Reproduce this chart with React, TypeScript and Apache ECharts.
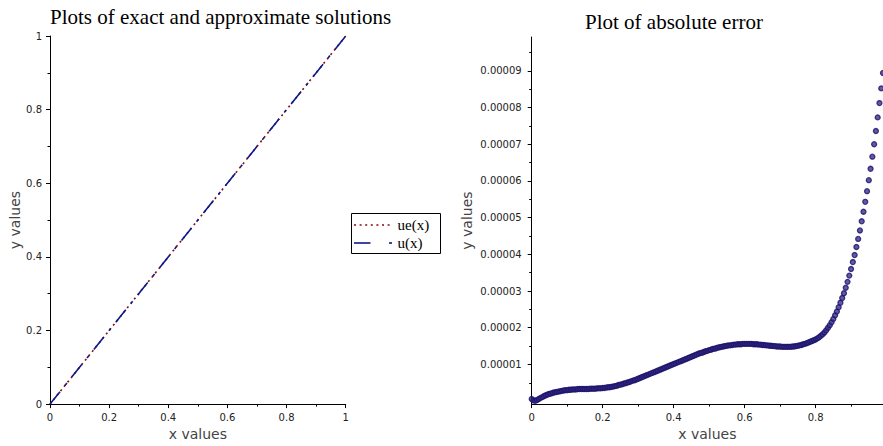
import React, { useEffect, useRef } from "react";
import * as echarts from "echarts";

// Left plot: exact (ue) and approximate (u) solutions
const lineX = [0, 1];
const ueValues = [0, 1];
const uValues = [0, 1];
const legendNames = ["ue(x)", "u(x)"];

// Right plot: absolute error, sampled every 0.005 from x = 0 (values in units of 1e-5)
const errStep = 0.005;
const errUnit = 1e-5;
const errValues = [
  0.06, 0.02, 0.01, 0.03, 0.06, 0.09, 0.11, 0.14, 0.16, 0.18,
  0.20, 0.21, 0.23, 0.24, 0.25, 0.26, 0.27, 0.28, 0.29, 0.30,
  0.30, 0.31, 0.31, 0.32, 0.32, 0.32, 0.33, 0.33, 0.33, 0.33,
  0.33, 0.33, 0.33, 0.34, 0.34, 0.34, 0.34, 0.35, 0.35, 0.35,
  0.36, 0.36, 0.37, 0.38, 0.38, 0.39, 0.40, 0.41, 0.42, 0.44,
  0.45, 0.46, 0.48, 0.49, 0.51, 0.52, 0.54, 0.56, 0.57, 0.59,
  0.61, 0.63, 0.65, 0.67, 0.69, 0.71, 0.73, 0.75, 0.77, 0.79,
  0.81, 0.83, 0.85, 0.87, 0.89, 0.91, 0.93, 0.95, 0.97, 0.99,
  1.01, 1.03, 1.05, 1.07, 1.09, 1.11, 1.13, 1.15, 1.17, 1.19,
  1.21, 1.23, 1.25, 1.27, 1.29, 1.31, 1.32, 1.34, 1.36, 1.37,
  1.39, 1.40, 1.42, 1.43, 1.44, 1.46, 1.47, 1.48, 1.49, 1.50,
  1.51, 1.52, 1.52, 1.53, 1.54, 1.54, 1.55, 1.55, 1.55, 1.56,
  1.56, 1.56, 1.56, 1.56, 1.56, 1.55, 1.55, 1.55, 1.54, 1.54,
  1.53, 1.53, 1.52, 1.52, 1.51, 1.51, 1.50, 1.50, 1.49, 1.49,
  1.49, 1.48, 1.48, 1.48, 1.48, 1.48, 1.48, 1.49, 1.49, 1.50,
  1.51, 1.52, 1.53, 1.55, 1.56, 1.58, 1.60, 1.62, 1.64, 1.66,
  1.68, 1.71, 1.74, 1.78, 1.82, 1.87, 1.93, 2.00, 2.07, 2.15,
  2.24, 2.34, 2.44, 2.56, 2.68, 2.81, 2.94, 3.09, 3.25, 3.42,
  3.60, 3.79, 3.98, 4.20, 4.42, 4.65, 4.90, 5.16, 5.43, 5.72,
  6.02, 6.33, 6.66, 7.00, 7.36, 7.73, 8.12, 8.52, 8.94,
];

const rightXTicks = [0, 0.2, 0.4, 0.6, 0.8];
const rightXMinorTicks = [0.1, 0.3, 0.5, 0.7, 0.9];
const rightYTicks = [0.00001, 0.00002, 0.00003, 0.00004, 0.00005, 0.00006, 0.00007, 0.00008, 0.00009];
const rightYMinorTicks = [
  0.000005, 0.000015, 0.000025, 0.000035, 0.000045,
  0.000055, 0.000065, 0.000075, 0.000085, 0.000095,
];

const leftTitle = "Plots of exact and approximate solutions";
const rightTitle = "Plot of absolute error";

const ueColor = "#8b0a0a";
const uColor = "#0c1a8c";
const ueDash = [2, 3.6];
const uDash = [16, 8, 3, 8];

const labelFont = { fontFamily: "DejaVu Sans", fontSize: 10, color: "#222" };
const nameFont = { fontFamily: "DejaVu Sans", fontSize: 14, color: "#444" };
const black = { color: "#000", width: 1 };

export default function App() {
  const ref = useRef<HTMLDivElement>(null);

  useEffect(() => {
    if (!ref.current) return;
    const chart = echarts.init(ref.current, undefined, { renderer: "svg" });

    const errData = errValues.map((v, i) => [i * errStep, v * errUnit]);
    const legendFont = '15px "Liberation Serif"';

    chart.setOption({
      animation: false,
      backgroundColor: "#fff",
      graphic: [
        {
          type: "text",
          x: 50,
          y: 17,
          style: { text: leftTitle, font: '21px "Liberation Serif"', fill: "#000", align: "left", verticalAlign: "middle" },
        },
        {
          type: "text",
          x: 585,
          y: 21.5,
          style: { text: rightTitle, font: '21px "Liberation Serif"', fill: "#000", align: "left", verticalAlign: "middle" },
        },
        // legend box
        {
          type: "group",
          x: 351.5,
          y: 213.5,
          children: [
            { type: "rect", shape: { x: 0, y: 0, width: 89, height: 40 }, style: { fill: "#fff", stroke: "#000", lineWidth: 1 } },
            {
              type: "line",
              shape: { x1: 2.5, y1: 11.5, x2: 40, y2: 11.5 },
              style: { stroke: ueColor, lineWidth: 1.6, lineDash: ueDash },
            },
            {
              type: "text",
              x: 46,
              y: 11.5,
              style: { text: legendNames[0], font: legendFont, fill: "#000", align: "left", verticalAlign: "middle" },
            },
            {
              type: "line",
              shape: { x1: 2.5, y1: 29.5, x2: 19, y2: 29.5 },
              style: { stroke: uColor, lineWidth: 1.6 },
            },
            {
              type: "line",
              shape: { x1: 37.5, y1: 29.5, x2: 40.5, y2: 29.5 },
              style: { stroke: uColor, lineWidth: 1.6 },
            },
            {
              type: "text",
              x: 46,
              y: 29.5,
              style: { text: legendNames[1], font: legendFont, fill: "#000", align: "left", verticalAlign: "middle" },
            },
          ],
        },
      ],
      grid: [
        { left: 50, top: 36, width: 295.7, height: 371 },
        { left: 531.7, top: 37, width: 353.5, height: 374 },
      ],
      xAxis: [
        {
          gridIndex: 0,
          type: "value",
          position: "bottom",
          min: 0,
          max: 1,
          interval: 0.2,
          axisLine: { onZero: false, lineStyle: black },
          axisTick: { length: 4, lineStyle: black },
          minorTick: { show: true, splitNumber: 2, length: 2.5, lineStyle: black },
          splitLine: { show: false },
          axisLabel: { ...labelFont, margin: 8 },
          name: "x values",
          nameLocation: "middle",
          nameGap: 22,
          nameTextStyle: nameFont,
        },
        {
          gridIndex: 1,
          type: "value",
          position: "bottom",
          min: 0,
          max: 0.99,
          axisLine: { onZero: false, lineStyle: black },
          axisTick: { customValues: rightXTicks, length: 4, lineStyle: black },
          splitLine: { show: false },
          axisLabel: { ...labelFont, margin: 8, customValues: rightXTicks },
          name: "x values",
          nameLocation: "middle",
          nameGap: 19,
          nameTextStyle: nameFont,
        },
        {
          gridIndex: 1,
          type: "value",
          position: "bottom",
          min: 0,
          max: 0.99,
          axisLine: { show: false, onZero: false },
          axisTick: { customValues: rightXMinorTicks, length: 2.5, lineStyle: black },
          splitLine: { show: false },
          axisLabel: { show: false },
        },
      ],
      yAxis: [
        {
          gridIndex: 0,
          type: "value",
          position: "left",
          min: 0,
          max: 1,
          interval: 0.2,
          axisLine: { show: true, onZero: false, lineStyle: black },
          axisTick: { show: true, length: 4, lineStyle: black },
          minorTick: { show: true, splitNumber: 2, length: 2.5, lineStyle: black },
          splitLine: { show: false },
          axisLabel: { ...labelFont, margin: 8 },
          name: "y values",
          nameLocation: "middle",
          nameGap: 28,
          nameTextStyle: nameFont,
        },
        {
          gridIndex: 1,
          type: "value",
          position: "left",
          min: -0.0000008,
          max: 0.0000992,
          axisLine: { show: true, onZero: false, lineStyle: black },
          axisTick: { show: true, customValues: rightYTicks, length: 4, lineStyle: black },
          splitLine: { show: false },
          axisLabel: {
            ...labelFont,
            margin: 10,
            customValues: rightYTicks,
            formatter: (v: number) => v.toFixed(5),
          },
          name: "y values",
          nameLocation: "middle",
          nameGap: 58,
          nameTextStyle: nameFont,
        },
        {
          gridIndex: 1,
          type: "value",
          position: "left",
          min: -0.0000008,
          max: 0.0000992,
          axisLine: { show: false, onZero: false },
          axisTick: { show: true, customValues: rightYMinorTicks, length: 2.5, lineStyle: black },
          splitLine: { show: false },
          axisLabel: { show: false },
        },
      ],
      series: [
        {
          name: legendNames[0],
          type: "line",
          xAxisIndex: 0,
          yAxisIndex: 0,
          data: lineX.map((x, i) => [x, ueValues[i]]),
          symbol: "none",
          lineStyle: { color: ueColor, width: 1.6, type: ueDash },
          itemStyle: { color: ueColor },
        },
        {
          name: legendNames[1],
          type: "line",
          xAxisIndex: 0,
          yAxisIndex: 0,
          data: lineX.map((x, i) => [x, uValues[i]]),
          symbol: "none",
          lineStyle: { color: uColor, width: 1.6, type: uDash },
          itemStyle: { color: uColor },
        },
        {
          type: "scatter",
          xAxisIndex: 1,
          yAxisIndex: 1,
          data: errData,
          symbol: "circle",
          symbolSize: 5,
          itemStyle: { color: "#3a3090", borderColor: "#1a1266", borderWidth: 1.3 },
        },
      ],
    });

    return () => chart.dispose();
  }, []);

  return (
    <div
      ref={ref}
      style={{ position: "fixed", left: 0, top: 0, width: 883, height: 446, background: "#fff" }}
    />
  );
}
